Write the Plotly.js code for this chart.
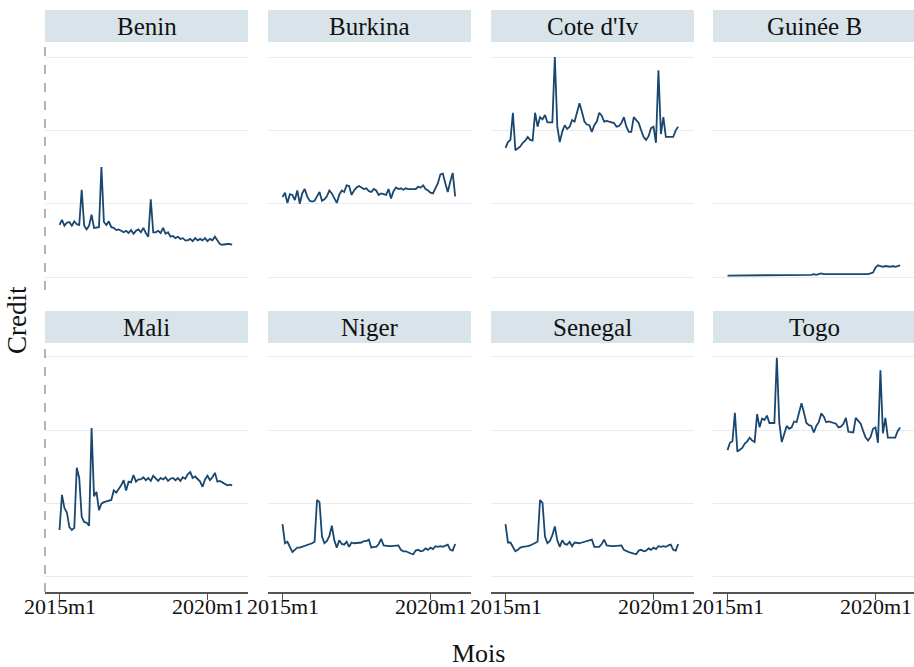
<!DOCTYPE html>
<html>
<head>
<meta charset="utf-8">
<script src="https://cdn.plot.ly/plotly-3.0.1.min.js"></script>
<style>html,body{margin:0;padding:0;background:#fff;}#chart{width:914px;height:667px;}</style>
</head>
<body>
<div id="chart"></div>
<script>
// ---------- DATA ----------
const countries = ['Benin', 'Burkina', "Cote d'Iv", 'Guinée B', 'Mali', 'Niger', 'Senegal', 'Togo'];
const tickLabels = ['2015m1', '2020m1'];
const tickMonths = [0, 60];

const benin = [0.71,0.78,0.70,0.74,0.75,0.70,0.76,0.72,0.71,1.19,0.70,0.65,0.70,0.85,0.67,0.68,0.68,1.50,0.75,0.71,
  0.76,0.68,0.67,0.64,0.65,0.63,0.61,0.63,0.60,0.64,0.59,0.63,0.65,0.61,0.67,0.60,0.55,1.06,0.61,0.61,
  0.63,0.60,0.67,0.59,0.61,0.55,0.56,0.53,0.55,0.52,0.53,0.50,0.50,0.52,0.49,0.53,0.50,0.52,0.50,0.53,
  0.49,0.52,0.50,0.55,0.50,0.45,0.44,0.45,0.45,0.45,0.44];
const burkina = [1.09,1.15,1.01,1.13,1.12,1.05,1.18,1.00,1.14,1.20,1.10,1.04,1.03,1.04,1.10,1.16,1.04,1.06,1.10,1.18,
  1.14,1.08,1.01,1.12,1.18,1.16,1.25,1.24,1.12,1.18,1.22,1.24,1.22,1.20,1.21,1.17,1.16,1.20,1.18,1.12,
  1.14,1.13,1.12,1.20,1.07,1.17,1.22,1.20,1.21,1.19,1.21,1.20,1.20,1.21,1.20,1.23,1.22,1.25,1.20,1.18,
  1.15,1.14,1.20,1.28,1.40,1.41,1.28,1.16,1.30,1.42,1.10];
const coteIv = [1.76,1.84,1.87,2.24,1.73,1.75,1.78,1.83,1.86,1.91,1.87,1.86,2.24,2.05,2.18,2.15,2.21,2.11,2.11,2.11,
  3.00,2.05,1.84,1.98,2.07,2.02,2.05,2.14,2.12,2.25,2.37,2.25,2.12,2.08,2.07,1.98,2.07,2.12,2.24,2.20,
  2.12,2.13,2.12,2.11,2.10,2.05,2.06,2.10,2.18,2.05,1.98,1.98,2.18,2.14,2.10,2.00,1.91,1.87,1.92,2.03,
  2.05,1.83,2.82,1.95,2.18,1.91,1.91,1.91,1.91,2.00,2.05];
const guineeB = [0.02,0.02,0.02,0.03,0.02,0.02,0.02,0.03,0.02,0.02,0.02,
  0.02,0.03,0.02,0.02,0.02,0.02,0.03,0.02,0.02,0.02,
  0.03,0.02,0.03,0.03,0.02,0.03,0.03,0.03,0.03,0.03,
  0.03,0.03,0.03,0.03,0.04,0.03,0.04,0.05,0.04,0.04,
  0.03,0.03,0.04,0.04,0.03,0.04,0.04,0.04,0.04,0.04,
  0.04,0.04,0.04,0.04,0.04,0.04,0.04,0.05,
  0.06,0.13,0.16,0.15,0.14,0.15,0.14,0.14,0.15,0.14,0.15,0.16];
const mali = [0.64,1.12,0.94,0.88,0.68,0.64,0.67,1.49,1.35,0.82,0.75,0.74,0.70,2.03,1.10,1.16,0.91,1.00,1.02,1.03,
  1.05,1.05,1.18,1.15,1.20,1.25,1.32,1.18,1.30,1.29,1.39,1.30,1.33,1.33,1.36,1.32,1.35,1.31,1.38,1.35,
  1.31,1.35,1.33,1.36,1.31,1.34,1.35,1.32,1.35,1.31,1.36,1.34,1.40,1.43,1.35,1.37,1.33,1.30,1.23,1.33,
  1.38,1.32,1.36,1.42,1.30,1.31,1.29,1.27,1.25,1.26,1.25];
const niger = [0.72,0.46,0.48,0.41,0.34,0.37,0.40,0.40,0.41,0.42,0.43,0.45,0.46,0.48,1.05,1.02,0.55,0.46,0.49,0.56,
  0.70,0.50,0.40,0.50,0.45,0.44,0.48,0.41,0.47,0.46,0.46,0.47,0.47,0.49,0.49,0.51,0.40,0.41,0.41,0.45,
  0.52,0.43,0.42,0.42,0.42,0.42,0.42,0.43,0.37,0.35,0.35,0.33,0.32,0.31,0.36,0.37,0.35,0.36,0.39,0.37,
  0.40,0.38,0.42,0.41,0.42,0.41,0.43,0.44,0.37,0.36,0.45];
const senegal = [0.72,0.47,0.47,0.41,0.35,0.37,0.40,0.41,0.41,0.42,0.43,0.45,0.46,0.48,1.05,1.01,0.55,0.46,0.49,0.57,
  0.69,0.50,0.41,0.50,0.45,0.44,0.48,0.42,0.47,0.46,0.46,0.47,0.48,0.49,0.49,0.51,0.41,0.41,0.41,0.45,
  0.51,0.43,0.42,0.42,0.42,0.42,0.42,0.43,0.37,0.35,0.34,0.33,0.32,0.31,0.36,0.37,0.35,0.36,0.39,0.37,
  0.40,0.38,0.42,0.41,0.42,0.41,0.43,0.44,0.37,0.36,0.45];
const togo = [1.73,1.83,1.85,2.24,1.71,1.73,1.76,1.82,1.85,1.90,1.86,1.84,2.22,2.04,2.16,2.14,2.20,2.10,2.10,2.10,
  2.99,2.10,1.84,1.97,2.06,2.02,2.04,2.12,2.11,2.24,2.37,2.24,2.10,2.07,2.06,1.97,2.06,2.11,2.23,2.19,
  2.11,2.12,2.11,2.10,2.09,2.04,2.05,2.09,2.17,1.98,1.97,1.97,2.17,2.13,2.09,1.99,1.90,1.86,1.91,2.02,
  2.04,1.83,2.82,1.96,2.17,1.90,1.90,1.90,1.90,1.99,2.04];

const series = [benin, burkina, coteIv, guineeB, mali, niger, senegal, togo];

// ---------- LAYOUT ----------
const W = 914, H = 667;
const pxPerMonth = 148 / 60;
const colLeft = [45, 268, 491, 713];
const colW = [203, 203, 203, 201];
const tickPx0 = 14.5;            // px from panel left to 2015m1
const rowTop = [42, 344], rowBot = [290, 592];
const headTop = [10, 311], headBot = [42, 343];
const yRanges = [[-0.177, 3.205], [-0.205, 3.177]];
const serif = 'Liberation Serif';
const lineColor = '#1a476f';

const traces = [];
const layout = {
  width: W, height: H,
  margin: {l: 0, r: 0, t: 0, b: 0},
  paper_bgcolor: '#ffffff', plot_bgcolor: '#ffffff',
  showlegend: false,
  font: {family: serif, color: '#111'},
  shapes: [], annotations: []
};

series.forEach((vals, i) => {
  const r = Math.floor(i / 4), c = i % 4;
  const n = i + 1;
  const xa = n === 1 ? 'x' : 'x' + n;
  const ya = n === 1 ? 'y' : 'y' + n;
  const months = vals.map((v, k) => k);
  traces.push({x: months, y: vals, xaxis: xa, yaxis: ya, type: 'scatter', mode: 'lines',
    line: {color: lineColor, width: 1.8}, hoverinfo: 'skip'});
  const x0m = -tickPx0 / pxPerMonth;
  const xr = [x0m, x0m + colW[c] / pxPerMonth];
  const xKey = n === 1 ? 'xaxis' : 'xaxis' + n;
  const yKey = n === 1 ? 'yaxis' : 'yaxis' + n;
  const bottom = r === 1;
  layout[xKey] = {
    domain: [colLeft[c] / W, Math.min(1, (colLeft[c] + colW[c]) / W)],
    anchor: ya, range: xr, fixedrange: true,
    showgrid: false, zeroline: false,
    showline: bottom, linecolor: '#555', linewidth: 1.6,
    tickmode: 'array', tickvals: bottom ? tickMonths : [], ticktext: bottom ? tickLabels : [],
    ticks: bottom ? 'outside' : '', ticklen: 6, tickwidth: 1.2, tickcolor: '#555',
    showticklabels: false
  };
  layout[yKey] = {
    domain: [(H - rowBot[r]) / H, (H - rowTop[r]) / H],
    anchor: xa, range: yRanges[r], fixedrange: true,
    showgrid: true, gridcolor: '#e9ecef', gridwidth: 1,
    tickmode: 'array', tickvals: [0, 1, 2, 3],
    showticklabels: false, ticks: '', zeroline: false, showline: false
  };
  if (bottom) {
    tickMonths.forEach((m, j) => {
      layout.annotations.push({xref: xa, yref: 'paper', x: m, y: (H - 606) / H,
        text: tickLabels[j], showarrow: false, xanchor: 'center', yanchor: 'middle',
        font: {family: serif, size: 22, color: '#111'}});
    });
  }
  // header strip
  layout.shapes.push({type: 'rect', xref: 'paper', yref: 'paper',
    x0: colLeft[c] / W, x1: Math.min(1, (colLeft[c] + colW[c]) / W),
    y0: (H - headBot[r]) / H, y1: (H - headTop[r]) / H,
    fillcolor: '#d9e4ea', line: {width: 0}, layer: 'below'});
  layout.annotations.push({xref: 'paper', yref: 'paper',
    x: (colLeft[c] + 101.5) / W, y: (H - (headTop[r] + headBot[r]) / 2) / H,
    text: countries[i], showarrow: false, xanchor: 'center', yanchor: 'middle',
    font: {family: serif, size: 25, color: '#111'}});
  // dashed y axis line on first column
  if (c === 0) {
    layout.shapes.push({type: 'line', xref: 'paper', yref: 'paper',
      x0: colLeft[0] / W, x1: colLeft[0] / W,
      y0: (H - rowBot[r]) / H, y1: (H - rowTop[r]) / H,
      line: {color: '#a0a0a0', width: 1.6, dash: 'dash'}});
  }
});

layout.annotations.push({xref: 'paper', yref: 'paper', x: 478 / W, y: (H - 653) / H,
  text: 'Mois', showarrow: false, xanchor: 'center', yanchor: 'middle',
  font: {family: serif, size: 26, color: '#111'}});
layout.annotations.push({xref: 'paper', yref: 'paper', x: 17 / W, y: (H - 320) / H,
  text: 'Credit', showarrow: false, textangle: -90, xanchor: 'center', yanchor: 'middle',
  font: {family: serif, size: 27, color: '#111'}});

Plotly.newPlot('chart', traces, layout, {staticPlot: true, displayModeBar: false});
</script>
</body>
</html>
